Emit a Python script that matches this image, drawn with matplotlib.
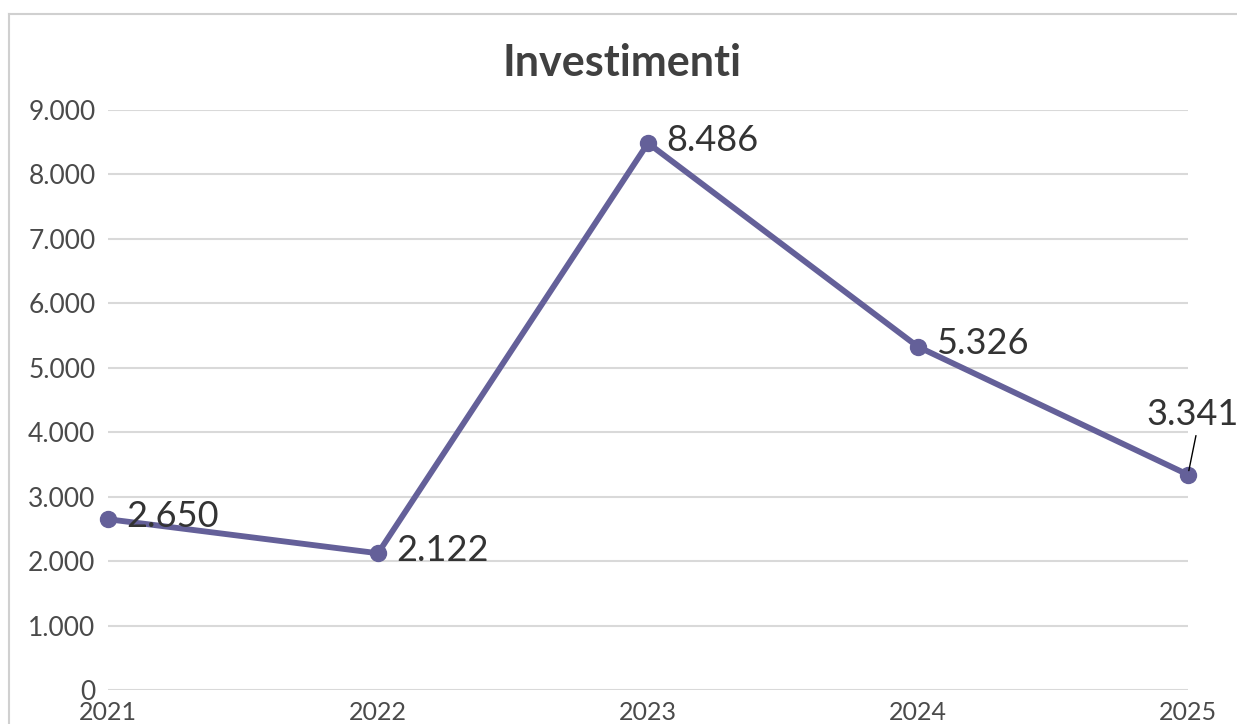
import matplotlib
matplotlib.use("Agg")
import matplotlib.pyplot as plt
from matplotlib.lines import Line2D

years = ["2021", "2022", "2023", "2024", "2025"]
values = [2650, 2122, 8486, 5326, 3341]
value_labels = ["2.650", "2.122", "8.486", "5.326", "3.341"]
yticks = [0, 1000, 2000, 3000, 4000, 5000, 6000, 7000, 8000, 9000]
ytick_labels = ["0", "1.000", "2.000", "3.000", "4.000", "5.000", "6.000", "7.000", "8.000", "9.000"]
title = "Investimenti"

W, H = 1237, 724
fig = plt.figure(figsize=(W / 100, H / 100), dpi=100)
fig.patch.set_facecolor("white")

# outer chart border
fig.add_artist(Line2D([9 / W, 1.0], [1 - 14 / H, 1 - 14 / H], transform=fig.transFigure,
                      color="#d0d0d0", lw=1.5))
fig.add_artist(Line2D([9 / W, 9 / W], [0, 1 - 14 / H], transform=fig.transFigure,
                      color="#d0d0d0", lw=1.5))

left, right = 108 / W, 1188 / W
bottom, top = 1 - 690 / H, 1 - 110 / H
ax = fig.add_axes([left, bottom, right - left, top - bottom])
ax.set_facecolor("none")

x = list(range(len(years)))
color = "#646099"
ax.plot(x, values, color=color, lw=4.2, marker="o", markersize=11.5,
        solid_capstyle="round", zorder=3, clip_on=False)

ax.set_xlim(0, len(years) - 1)
ax.set_ylim(0, 9000)
ax.set_yticks(yticks)
ax.set_yticklabels(ytick_labels)
ax.set_xticks(x)
ax.set_xticklabels(years)
ax.grid(axis="y", color="#d9d9d9", lw=1.5)
ax.set_axisbelow(True)
for s in ax.spines.values():
    s.set_visible(False)
ax.tick_params(axis="y", length=0, labelsize=19, labelcolor="#4a4a4a", pad=9)
ax.tick_params(axis="x", length=0, labelsize=18, labelcolor="#4a4a4a", pad=8)
for lab in ax.get_xticklabels() + ax.get_yticklabels():
    lab.set_fontfamily("Lato")

fig.text(622 / W, 1 - 63 / H, title, ha="center", va="center",
         fontsize=31, fontweight="bold", color="#404040", family="Lato")

for i, (v, lab) in enumerate(zip(values, value_labels)):
    if i == len(values) - 1:
        ax.annotate(lab, xy=(i, v), xytext=(3, 43), textcoords="offset points",
                    ha="center", va="center", fontsize=26, color="#333333", family="Lato",
                    arrowprops=dict(arrowstyle="-", color="black", lw=1,
                                    shrinkA=1, shrinkB=3, relpos=(0.55, 0)),
                    annotation_clip=False)
    else:
        ax.annotate(lab, xy=(i, v), xytext=(13, 2), textcoords="offset points",
                    ha="left", va="center", fontsize=26, color="#333333", family="Lato",
                    annotation_clip=False)

fig.savefig("out.png", dpi=100)
